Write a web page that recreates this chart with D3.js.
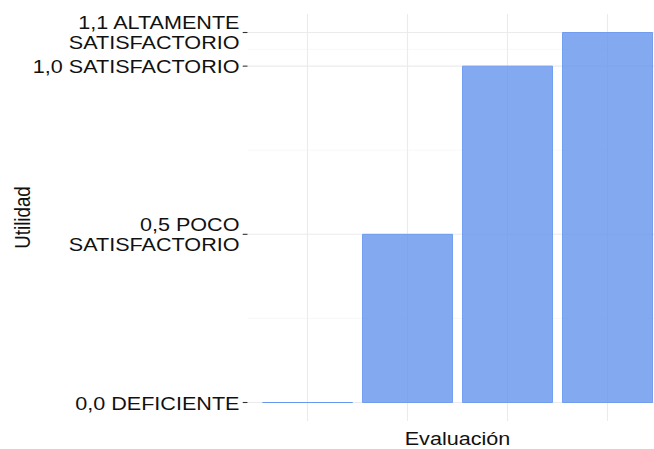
<!DOCTYPE html>
<html>
<head>
<meta charset="utf-8">
<script src="https://cdn.jsdelivr.net/npm/d3@7"></script>
<style>
  html, body { margin: 0; padding: 0; background: #fff; }
  svg { display: block; }
  text { font-family: "Liberation Sans", Arial, sans-serif; fill: #111111; }
</style>
</head>
<body>
<svg id="chart" width="654" height="449"></svg>
<script>
// ---- data ----
const categories = ["Deficiente", "Poco satisfactorio", "Satisfactorio", "Altamente satisfactorio"];
const values = [0.0, 0.5, 1.0, 1.1];
const yTickValues = [0.0, 0.5, 1.0, 1.1];
const yTickLabels = [["0,0 DEFICIENTE"], ["0,5 POCO", "SATISFACTORIO"], ["1,0 SATISFACTORIO"], ["1,1 ALTAMENTE", "SATISFACTORIO"]];
const yMinorBreaks = [0.25, 0.75, 1.05];
const xTitle = "Evaluación";
const yTitle = "Utilidad";

// ---- layout ----
const svg = d3.select("#chart");
const panel = { left: 247.5, right: 667.5, top: 14, bottom: 421 };
const fontSize = 18.7;
const stretch = 1.155;

const x = d3.scalePoint().domain(categories).range([panel.left, panel.right]).padding(0.6);
const step = x.step();
const y = d3.scaleLinear().domain([-0.055, 1.155]).range([panel.bottom, panel.top]);

svg.append("clipPath").attr("id", "pclip").append("rect")
  .attr("x", panel.left).attr("y", panel.top)
  .attr("width", panel.right - panel.left).attr("height", panel.bottom - panel.top);

const g = svg.append("g").attr("clip-path", "url(#pclip)");

// minor horizontal grid
g.selectAll("line.minor").data(yMinorBreaks).enter().append("line")
  .attr("x1", panel.left).attr("x2", panel.right)
  .attr("y1", d => y(d)).attr("y2", d => y(d))
  .attr("stroke", "#f4f4f4").attr("stroke-width", 0.6);

// major horizontal grid
g.selectAll("line.majy").data(yTickValues).enter().append("line")
  .attr("x1", panel.left).attr("x2", panel.right)
  .attr("y1", d => y(d)).attr("y2", d => y(d))
  .attr("stroke", "#ebebeb").attr("stroke-width", 1.1);

// major vertical grid
g.selectAll("line.majx").data(categories).enter().append("line")
  .attr("x1", d => x(d)).attr("x2", d => x(d))
  .attr("y1", panel.top).attr("y2", panel.bottom)
  .attr("stroke", "#ebebeb").attr("stroke-width", 1.1);

// bars (as paths so zero-height bar still shows its outline)
const bw = step * 0.9;
g.selectAll("path.bar").data(categories.map((c, i) => ({ c, v: values[i] }))).enter().append("path")
  .attr("d", d => {
    const x0 = x(d.c) - bw / 2, x1 = x(d.c) + bw / 2;
    const y0 = y(0), y1 = y(d.v);
    return `M${x0},${y0}H${x1}V${y1}H${x0}Z`;
  })
  .attr("fill", "#6495ed").attr("fill-opacity", 0.8)
  .attr("stroke", "#6495ed").attr("stroke-opacity", 0.85).attr("stroke-width", 1);

// y ticks
svg.selectAll("line.ytick").data(yTickValues).enter().append("line")
  .attr("x1", panel.left - 4.8).attr("x2", panel.left)
  .attr("y1", d => y(d)).attr("y2", d => y(d))
  .attr("stroke", "#333333").attr("stroke-width", 1.1);

// y tick labels
const lineGap = 19.5;
yTickLabels.forEach((lines, i) => {
  const ty = y(yTickValues[i]);
  const n = lines.length;
  lines.forEach((ln, j) => {
    const base = ty + 7 + (j - (n - 1)) * lineGap + (n - 1) * lineGap / 2 - (n > 1 ? 0.5 : 0);
    svg.append("text")
      .attr("transform", `translate(${panel.left - 8},${base}) scale(${stretch},1)`)
      .attr("text-anchor", "end")
      .attr("font-size", fontSize)
      .text(ln);
  });
});

// axis titles
svg.append("text")
  .attr("transform", `translate(${(panel.left + panel.right) / 2},444.5) scale(${stretch},1)`)
  .attr("text-anchor", "middle")
  .attr("font-size", fontSize)
  .text(xTitle);

svg.append("text")
  .attr("transform", `translate(30,${(panel.top + panel.bottom) / 2}) scale(${stretch},1) rotate(-90)`)
  .attr("text-anchor", "middle")
  .attr("font-size", fontSize)
  .text(yTitle);
</script>
</body>
</html>
